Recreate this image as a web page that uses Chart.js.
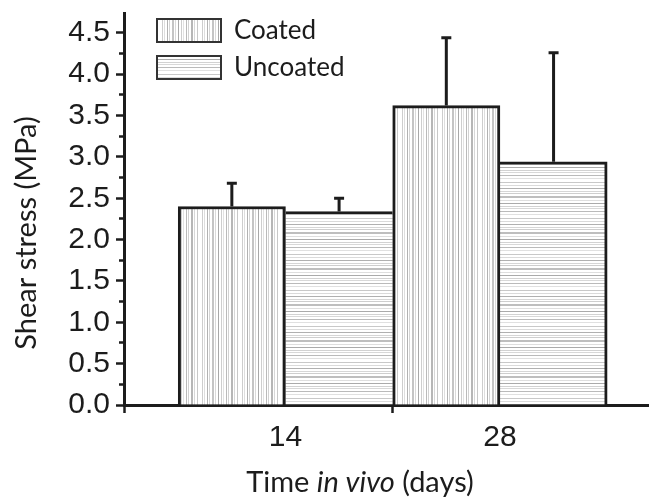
<!DOCTYPE html>
<html>
<head>
<meta charset="utf-8">
<title>Shear stress</title>
<script src="https://cdn.jsdelivr.net/npm/chart.js@4.4.1/dist/chart.umd.min.js"></script>
<style>
  html, body { margin: 0; padding: 0; background: #fff; overflow: hidden; }
  #wrap { width: 649px; height: 504px; }
</style>
</head>
<body>
<div id="wrap"><canvas id="chart" width="649" height="504"></canvas></div>
<script>
  // data
  const DAYS = [14, 28];
  const SERIES = ['Coated', 'Uncoated'];
  const COATED = [2.40, 3.62];
  const UNCOATED = [2.34, 2.94];
  const COATED_ERR = [0.28, 0.82];
  const UNCOATED_ERR = [0.16, 1.32];

  // axes
  const Y_MAX = 4.74;
  const Y_TICK_STEP = 0.25;
  const Y_LABEL_STEP = 0.5;
  const X_MIN = 3.46;
  const X_MAX = 37.73;
  const X_TICK_MARKS = [X_MIN, 21];

  const INK = '#1c1c1c';
  const NUM_FONT = 'Liberation Sans, Arial, sans-serif';
  const TEXT_FONT = 'Lato, "Open Sans", sans-serif';

  // stripe tiles (grey level per pixel row / column)
  const V_STRIPES = [255,255,205,255,222,255,255,178,255,212,255,255,196,196,255,218,255,255,168,255,255,206,255,226,255,255,186,255,210,255,255,182,182,255,216,255,255,200,255,255];
  const H_STRIPES = [255,255,200,255,255,218,255,255,176,255,255,214,255,206,255,255,190,190,255,255,222,255,255,170,255,255,210,255,216,255,255,186,255,255,224,255];

  const canvas = document.getElementById('chart');

  function stripes(seq, vertical) {
    const tile = document.createElement('canvas');
    tile.width = vertical ? seq.length : 4;
    tile.height = vertical ? 4 : seq.length;
    const t = tile.getContext('2d');
    seq.forEach((g, i) => {
      t.fillStyle = `rgb(${g},${g},${g})`;
      if (vertical) t.fillRect(i, 0, 1, 4);
      else t.fillRect(0, i, 4, 1);
    });
    return canvas.getContext('2d').createPattern(tile, 'repeat');
  }

  const isLabelTick = (v) => Math.abs(v / Y_LABEL_STEP - Math.round(v / Y_LABEL_STEP)) < 1e-6;

  const errorBars = {
    id: 'errorBars',
    afterDatasetsDraw(chart) {
      const { ctx } = chart;
      const y = chart.scales.y;
      ctx.save();
      ctx.strokeStyle = INK;
      ctx.lineWidth = 3;
      chart.data.datasets.forEach((ds, i) => {
        chart.getDatasetMeta(i).data.forEach((bar, j) => {
          const top = y.getPixelForValue(ds.data[j].y + ds.errors[j]);
          ctx.beginPath();
          ctx.moveTo(bar.x, bar.y);
          ctx.lineTo(bar.x, top);
          ctx.moveTo(bar.x - 5, top);
          ctx.lineTo(bar.x + 5, top);
          ctx.stroke();
        });
      });
      ctx.restore();
    },
  };

  // legend sits inside the plot; nudge it to where the figure has it
  const legendShift = {
    id: 'legendShift',
    afterLayout(chart) {
      if (!chart.legend) return;
      chart.legend.left += 22;
      chart.legend.top += 6.5;
    },
  };

  // axis titles (x title has an italic part)
  const axisTitles = {
    id: 'axisTitles',
    afterDraw(chart) {
      const { ctx } = chart;
      ctx.save();
      ctx.fillStyle = INK;
      ctx.textBaseline = 'alphabetic';

      const parts = [
        { text: 'Time ', font: `29px ${TEXT_FONT}` },
        { text: 'in vivo', font: `italic 29px ${TEXT_FONT}` },
        { text: ' (days)', font: `29px ${TEXT_FONT}` },
      ];
      let total = 0;
      parts.forEach((p) => { ctx.font = p.font; p.w = ctx.measureText(p.text).width; total += p.w; });
      let x = 360 - total / 2;
      ctx.textAlign = 'left';
      parts.forEach((p) => { ctx.font = p.font; ctx.fillText(p.text, x, 492); x += p.w; });

      ctx.translate(36, 233);
      ctx.rotate(-Math.PI / 2);
      ctx.textAlign = 'center';
      ctx.font = `29px ${TEXT_FONT}`;
      ctx.fillText('Shear stress (MPa)', 0, 0);
      ctx.restore();
    },
  };

  const coatedFill = stripes(V_STRIPES, true);
  const uncoatedFill = stripes(H_STRIPES, false);

  new Chart(canvas, {
    type: 'bar',
    data: {
      datasets: [
        {
          label: SERIES[0],
          data: DAYS.map((d, i) => ({ x: d, y: COATED[i] })),
          errors: COATED_ERR,
          backgroundColor: coatedFill,
          borderColor: INK,
          borderSkipped: false,
          borderWidth: { top: 3, left: 3, right: 3, bottom: 0 },
        },
        {
          label: SERIES[1],
          data: DAYS.map((d, i) => ({ x: d, y: UNCOATED[i] })),
          errors: UNCOATED_ERR,
          backgroundColor: uncoatedFill,
          borderColor: INK,
          borderSkipped: false,
          borderWidth: (c) => ({ top: 3, left: 0, right: c.dataIndex === DAYS.length - 1 ? 3 : 0, bottom: 0 }),
        },
      ],
    },
    options: {
      responsive: false,
      animation: false,
      devicePixelRatio: 1,
      barThickness: 107.25,
      layout: { padding: { left: 68, top: 13, right: 0, bottom: 48 } },
      plugins: {
        tooltip: { enabled: false },
        legend: {
          position: 'chartArea',
          align: 'start',
          labels: {
            boxWidth: 64,
            boxHeight: 23,
            padding: 11,
            color: INK,
            font: { family: TEXT_FONT, size: 26 },
            generateLabels: (chart) => chart.data.datasets.map((ds, i) => ({
              text: ds.label,
              fillStyle: ds.backgroundColor,
              strokeStyle: '#333',
              lineWidth: 2,
              hidden: false,
              datasetIndex: i,
              fontColor: INK,
            })),
          },
        },
      },
      scales: {
        x: {
          type: 'linear',
          min: X_MIN,
          max: X_MAX,
          offset: false,
          z: 1,
          afterBuildTicks: (s) => {
            s.ticks = [...X_TICK_MARKS, ...DAYS].sort((a, b) => a - b).map((value) => ({ value }));
          },
          afterFit: (s) => { s.height = 51; s.paddingLeft = 0; s.paddingRight = 0; },
          grid: {
            offset: false,
            drawOnChartArea: false,
            tickLength: 8,
            tickColor: INK,
            tickWidth: (c) => (DAYS.includes(c.tick.value) ? 0 : 2.5),
          },
          border: { color: INK, width: 3 },
          ticks: {
            autoSkip: false,
            maxRotation: 0,
            padding: 7,
            color: INK,
            font: { family: NUM_FONT, size: 30 },
            callback: (v) => (DAYS.includes(v) ? String(v) : ''),
          },
        },
        y: {
          min: 0,
          max: Y_MAX,
          z: 1,
          afterFit: (s) => { s.width = 56; s.paddingTop = 0; s.paddingBottom = 0; },
          grid: {
            drawOnChartArea: false,
            tickLength: 8,
            tickColor: INK,
            tickWidth: 2.5,
            tickBorderDash: (c) => (isLabelTick(c.tick.value) ? [] : [0, 3, 4, 20]),
          },
          border: { color: INK, width: 3 },
          ticks: {
            stepSize: Y_TICK_STEP,
            includeBounds: false,
            autoSkip: false,
            padding: 6,
            color: INK,
            font: { family: NUM_FONT, size: 30 },
            callback: (v) => (isLabelTick(v) ? v.toFixed(1) : ''),
          },
        },
      },
    },
    plugins: [errorBars, legendShift, axisTitles],
  });
</script>
</body>
</html>
